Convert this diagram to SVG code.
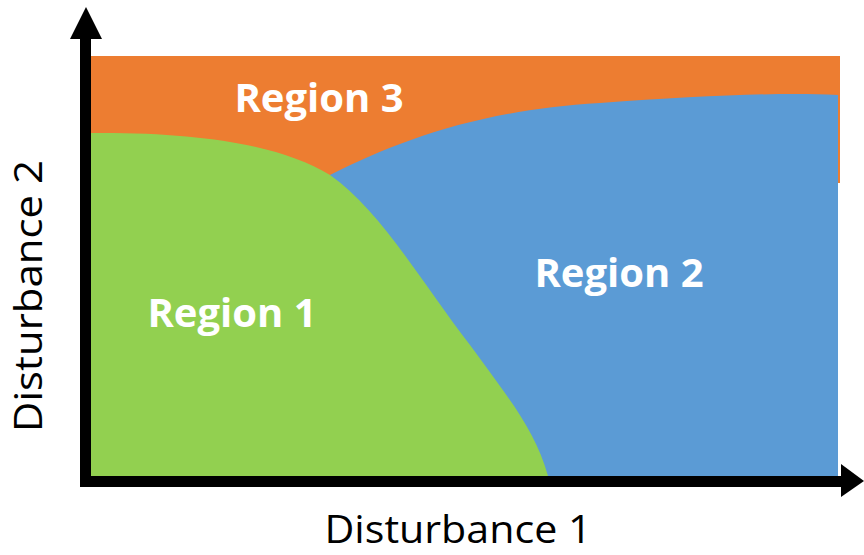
<svg xmlns="http://www.w3.org/2000/svg" width="864" height="555" viewBox="0 0 864 555">
  <style>
    .region-label { font-family: "Open Sans", "Liberation Sans", sans-serif; font-weight: bold; font-size: 40px; fill: #ffffff; text-anchor: middle; }
    .axis-label { font-family: "Open Sans", "Liberation Sans", sans-serif; font-size: 38px; fill: #000000; text-anchor: middle; }
    .axis { fill: #000000; }
  </style>
  <rect width="864" height="555" fill="#ffffff"/>

  <!-- Region 3: top band, sits behind the other two regions -->
  <g id="region3">
    <rect x="91" y="56" width="749" height="127" fill="#ed7d31"/>
    <text class="region-label" x="319" y="112">Region 3</text>
  </g>

  <!-- Region 2: right-hand area -->
  <g id="region2">
    <path d="M330,175 C400,140 480,110 600,103 C700,96 780,92 838,95 L838,476 L400,476 Z" fill="#5b9bd5"/>
    <text class="region-label" x="619" y="287">Region 2</text>
  </g>

  <!-- Region 1: lower-left area bounded by a falling curve -->
  <g id="region1">
    <path d="M91,133 C200,132 280,145 330,175 C380,210 420,280 470,345 C510,400 535,430 548,476 L91,476 Z" fill="#92d050"/>
    <text class="region-label" x="232" y="327">Region 1</text>
  </g>

  <!-- Axes -->
  <g id="connectors">
    <rect class="axis" x="80" y="38" width="11" height="449"/>
    <polygon class="axis" points="86,7 102,39 70,39"/>
    <rect class="axis" x="80" y="476" width="762" height="11"/>
    <polygon class="axis" points="864,481 841,464 841,497"/>
  </g>

  <g id="axis-labels">
    <text class="axis-label" x="458" y="543" font-size="35" textLength="267" lengthAdjust="spacingAndGlyphs">Disturbance 1</text>
    <text class="axis-label" x="0" y="0" transform="translate(42,296) rotate(-90)" textLength="272" lengthAdjust="spacingAndGlyphs">Disturbance 2</text>
  </g>
</svg>
